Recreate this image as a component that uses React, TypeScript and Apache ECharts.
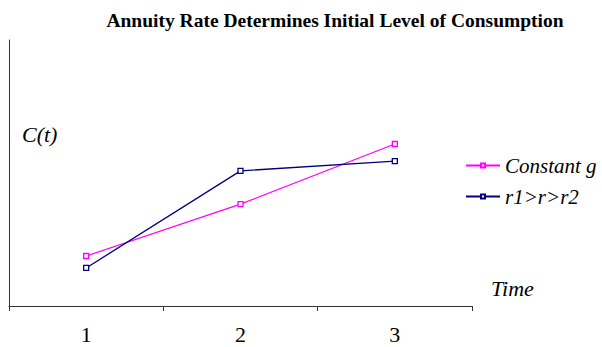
import React, { useEffect, useRef } from "react";
import * as echarts from "echarts";

const categories = ["1", "2", "3"];
const constantG = [1.88, 3.83, 6.09];
const rSpread = [1.43, 5.08, 5.45];
const seriesNames = ["Constant g", "r1>r>r2"];

const SERIF = "Times New Roman";

export default function App() {
  const ref = useRef<HTMLDivElement>(null);

  useEffect(() => {
    if (!ref.current) return;
    const chart = echarts.init(ref.current, null, { renderer: "svg" });
    const mk = (name: string, data: number[], color: string) => ({
      name,
      type: "line",
      data,
      symbol: "rect",
      symbolSize: 5,
      showSymbol: true,
      lineStyle: { color, width: 1.3 },
      itemStyle: { color: "#fff", borderColor: color, borderWidth: 1.3 },
    });
    chart.setOption({
      animation: false,
      backgroundColor: "#fff",
      textStyle: { fontFamily: SERIF },
      title: {
        text: "Annuity Rate Determines Initial Level of Consumption",
        left: 330,
        textAlign: "center",
        top: 5,
        textStyle: { fontFamily: SERIF, fontWeight: "bold", fontSize: 19.5, color: "#000" },
      },
      grid: { left: 9, right: 130, top: 40, bottom: 41, containLabel: false },
      legend: {
        orient: "vertical",
        left: 460,
        top: 150,
        padding: 5,
        itemWidth: 34,
        itemHeight: 5,
        itemGap: 10,
        textStyle: { fontFamily: SERIF, fontStyle: "italic", fontSize: 21, color: "#000" },
        data: seriesNames,
      },
      xAxis: {
        type: "category",
        data: categories,
        boundaryGap: true,
        axisLine: { lineStyle: { color: "#333", width: 1 } },
        axisTick: { show: true, length: 5, lineStyle: { color: "#333" } },
        axisLabel: { fontFamily: SERIF, fontSize: 22, color: "#000", margin: 17 },
      },
      yAxis: {
        type: "value",
        min: 0,
        max: 10,
        axisLine: { show: true, lineStyle: { color: "#333", width: 1 } },
        axisTick: { show: false },
        axisLabel: { show: false },
        splitLine: { show: false },
      },
      graphic: [
        {
          type: "text",
          left: 22,
          top: 123,
          style: { text: "C(t)", fontFamily: SERIF, fontStyle: "italic", fontSize: 22, fill: "#000" },
        },
        {
          type: "text",
          left: 491,
          top: 277,
          style: { text: "Time", fontFamily: SERIF, fontStyle: "italic", fontSize: 22, fill: "#000" },
        },
      ],
      series: [mk(seriesNames[0], constantG, "#ff00ff"), mk(seriesNames[1], rSpread, "#000080")],
    });
    return () => chart.dispose();
  }, []);

  return <div ref={ref} style={{ width: 602, height: 347, position: "absolute", left: 0, top: 0 }} />;
}
